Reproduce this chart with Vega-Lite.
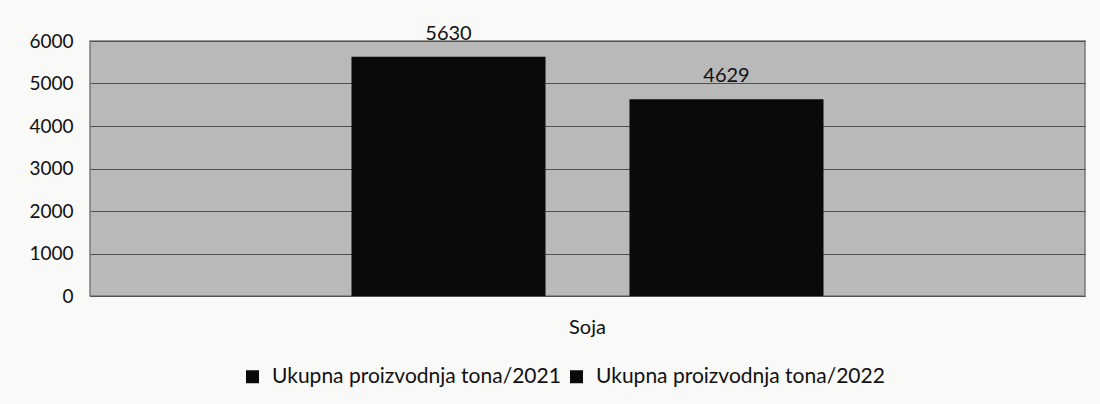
{
  "$schema": "https://vega.github.io/schema/vega-lite/v6.json",
  "autosize": {"type": "none"},
  "width": 995,
  "height": 255,
  "padding": {"left": 90, "top": 41, "right": 15, "bottom": 108},
  "background": "#f9f9f8",
  "data": {
    "values": [
      {"crop": "Soja", "series": "Ukupna proizvodnja tona/2021", "value": 5630},
      {"crop": "Soja", "series": "Ukupna proizvodnja tona/2022", "value": 4629}
    ]
  },
  "encoding": {
    "x": {
      "field": "crop",
      "type": "nominal",
      "scale": {"paddingInner": 0, "paddingOuter": 0.554},
      "axis": {"title": null, "labelAngle": 0, "ticks": false, "domain": false, "labelPadding": 21, "labelFontSize": 20, "labelFont": "Lato", "labelColor": "#111111", "labelBaseline": "top"}
    },
    "xOffset": {
      "field": "series",
      "type": "nominal",
      "scale": {"paddingInner": 0.302, "paddingOuter": 0}
    },
    "y": {
      "field": "value",
      "type": "quantitative",
      "scale": {"domain": [0, 6000], "nice": false},
      "axis": {"title": null, "format": "d", "values": [0, 1000, 2000, 3000, 4000, 5000, 6000], "ticks": false, "domain": false, "labelPadding": 17, "labelFontSize": 19, "labelFont": "Lato", "labelColor": "#111111", "grid": true, "gridColor": "#505050", "gridWidth": 1.2}
    }
  },
  "layer": [
    {
      "mark": {"type": "bar"},
      "encoding": {
        "color": {
          "field": "series",
          "type": "nominal",
          "scale": {"range": ["#0a0a0a", "#0a0a0a"]},
          "legend": {
            "title": null,
            "orient": "none",
            "direction": "horizontal",
            "legendX": 152,
            "legendY": 325,
            "symbolType": "square",
            "symbolSize": 169,
            "symbolStrokeWidth": 0,
            "labelFontSize": 21,
            "labelFont": "Lato",
            "labelColor": "#111111",
            "labelOffset": 9,
            "labelLimit": 400,
            "columnPadding": 5
          }
        }
      }
    },
    {
      "mark": {"type": "text", "dy": -17, "baseline": "alphabetic", "fontSize": 20, "font": "Lato", "color": "#111111"},
      "encoding": {"text": {"field": "value", "type": "quantitative", "format": "d"}}
    }
  ],
  "config": {
    "view": {"fill": "#b9b9b9", "stroke": "#7a7a7a", "strokeWidth": 1.5}
  }
}
